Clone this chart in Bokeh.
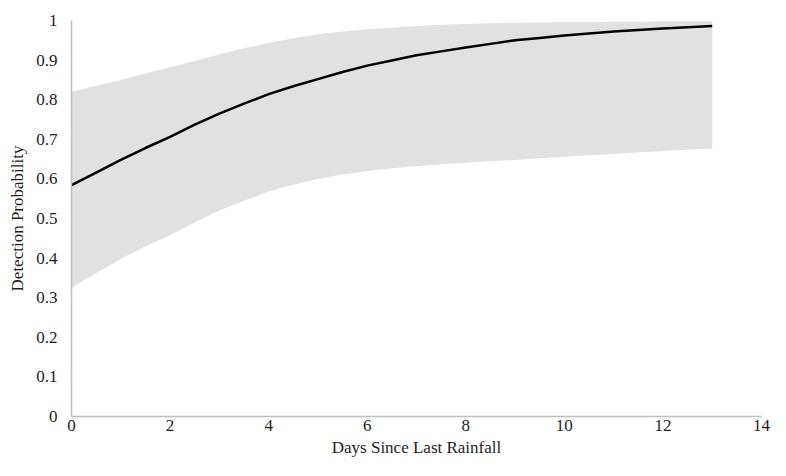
from bokeh.plotting import figure
from bokeh.models import FixedTicker, CustomJSTickFormatter, Range1d
from bokeh.embed import file_html
from bokeh.resources import INLINE

# Days since last rainfall
days = [0, 0.5, 1, 1.5, 2, 2.5, 3, 3.5, 4, 4.5, 5, 5.5, 6, 6.5, 7, 7.5, 8, 8.5, 9, 9.5, 10, 10.5, 11, 11.5, 12, 12.5, 13]
# Estimated detection probability (black line)
estimate = [0.584, 0.616, 0.648, 0.678, 0.706, 0.737, 0.765, 0.790, 0.814, 0.834, 0.852, 0.870, 0.886, 0.899, 0.912, 0.922, 0.932, 0.941, 0.950, 0.956, 0.962, 0.967, 0.972, 0.976, 0.980, 0.983, 0.986]
# Upper and lower confidence bounds (grey band)
upper = [0.820, 0.835, 0.850, 0.866, 0.882, 0.898, 0.914, 0.930, 0.943, 0.955, 0.965, 0.972, 0.978, 0.982, 0.986, 0.989, 0.991, 0.993, 0.994, 0.995, 0.996, 0.996, 0.997, 0.997, 0.998, 0.998, 0.998]
lower = [0.326, 0.362, 0.398, 0.430, 0.458, 0.490, 0.520, 0.545, 0.568, 0.585, 0.600, 0.611, 0.620, 0.627, 0.632, 0.637, 0.641, 0.645, 0.648, 0.652, 0.656, 0.660, 0.663, 0.667, 0.670, 0.674, 0.677]

x_ticks = [0, 2, 4, 6, 8, 10, 12, 14]
y_ticks = [0, 0.1, 0.2, 0.3, 0.4, 0.5, 0.6, 0.7, 0.8, 0.9, 1.0]

FONT = "Liberation Serif"

p = figure(width=770, height=460, output_backend="svg", toolbar_location=None,
           x_range=Range1d(0, 14), y_range=Range1d(0, 1),
           min_border_left=71, min_border_right=9, min_border_top=20, min_border_bottom=44)

p.varea(x=days, y1=lower, y2=upper, fill_color="#e1e1e1", fill_alpha=1.0)
p.line(x=days, y=estimate, line_color="black", line_width=2.5)

p.xgrid.grid_line_color = None
p.ygrid.grid_line_color = None
p.outline_line_color = None
p.background_fill_color = "white"
p.border_fill_color = "white"

for ax in (p.xaxis[0], p.yaxis[0]):
    ax.axis_line_color = "#c0c0c0"
    ax.axis_line_width = 1.5
    ax.major_tick_line_color = None
    ax.minor_tick_line_color = None
    ax.major_tick_out = 0
    ax.major_tick_in = 0
    ax.minor_tick_out = 0
    ax.minor_tick_in = 0
    ax.major_label_text_font = FONT
    ax.major_label_text_font_size = "17px"
    ax.major_label_text_color = "#1e1e1e"
    ax.axis_label_text_font = FONT
    ax.axis_label_text_font_size = "17px"
    ax.axis_label_text_font_style = "normal"
    ax.axis_label_text_color = "#1e1e1e"

p.xaxis[0].ticker = FixedTicker(ticks=x_ticks)
p.yaxis[0].ticker = FixedTicker(ticks=y_ticks)
p.yaxis[0].formatter = CustomJSTickFormatter(code="return String(Math.round(tick*10)/10);")
p.xaxis[0].major_label_standoff = 3
p.yaxis[0].major_label_standoff = 14
p.xaxis[0].axis_label = "Days Since Last Rainfall"
p.yaxis[0].axis_label = "Detection Probability"
p.xaxis[0].axis_label_standoff = 4
p.yaxis[0].axis_label_standoff = 6

open("out.html", "w").write(file_html(p, INLINE))
